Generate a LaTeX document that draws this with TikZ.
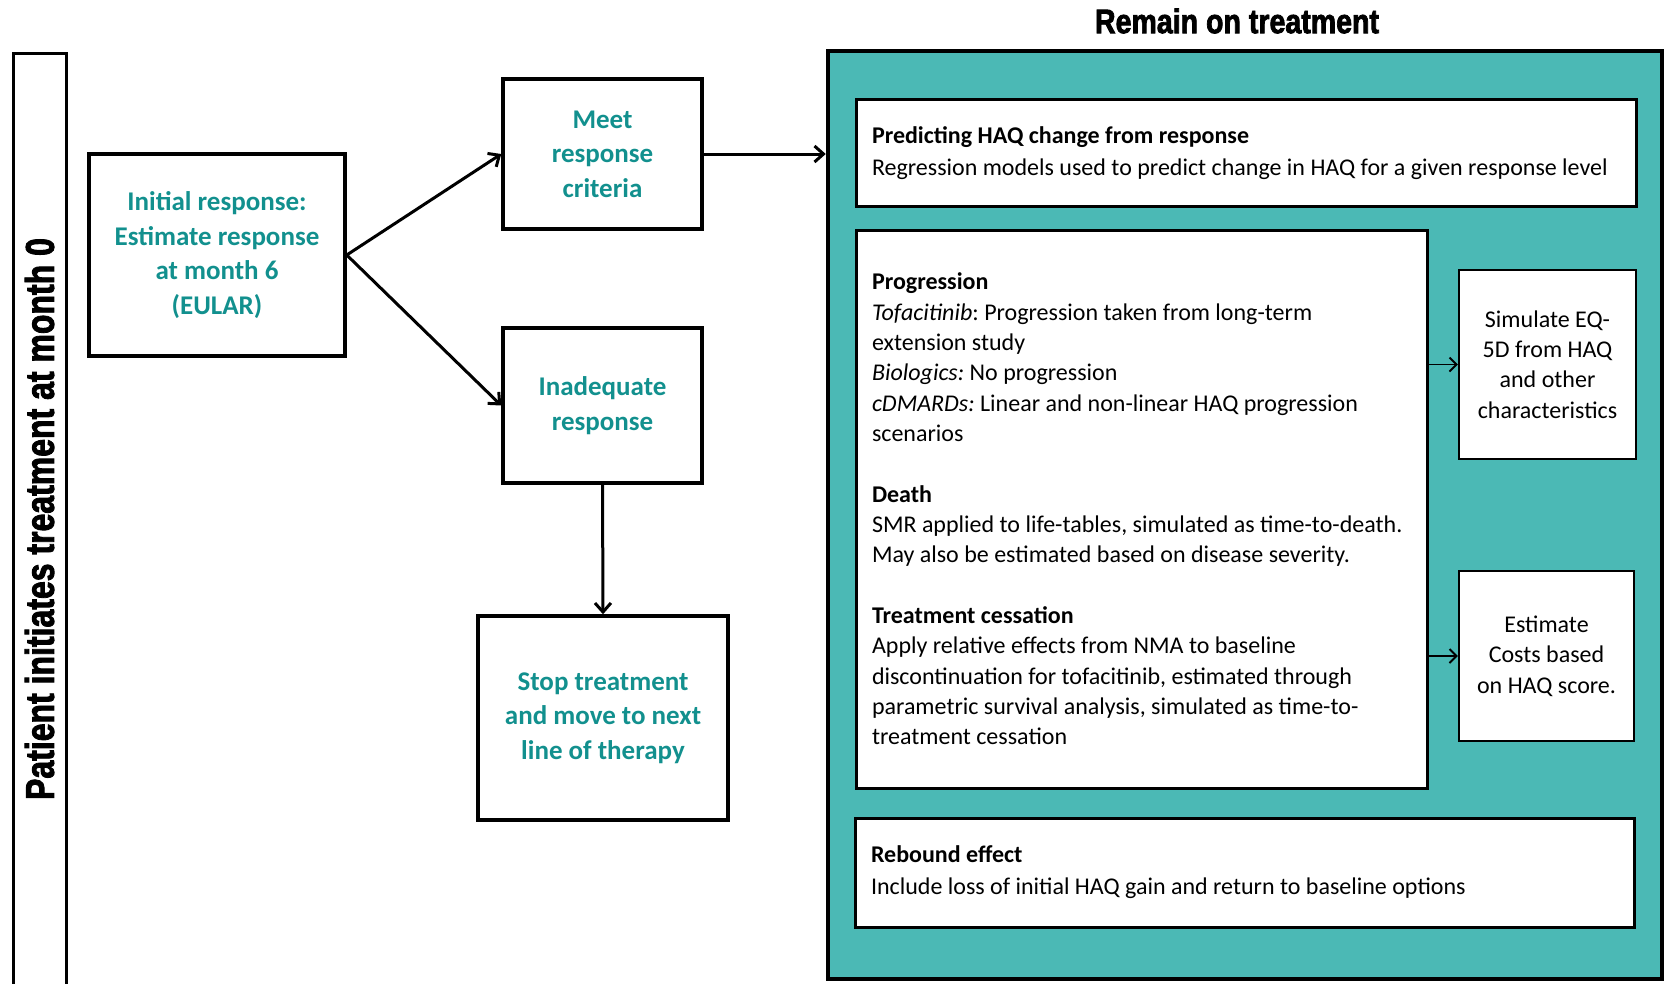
\documentclass[tikz,border=0pt]{standalone}
\usepackage{fontspec}
\setmainfont{Carlito}
\newfontfamily\heavyfont{Liberation Sans}[BoldFeatures={FakeBold=2.5}]
\usetikzlibrary{arrows.meta}
\definecolor{tealfill}{HTML}{4BB9B5}
\definecolor{tealtext}{HTML}{12908E}
\frenchspacing
\newcommand\plainspace{\spaceskip=\fontdimen2\font plus 0.1em\relax}

\begin{document}
\begin{tikzpicture}[x=1pt, y=-1pt,
    flow/.style={rectangle, draw, line width=3.5pt, align=center, text=tealtext, inner sep=0pt, font=\fontsize{27}{34.5}\selectfont\bfseries},
    info/.style={rectangle, draw, fill=white, line width=3pt, align=left, inner xsep=16pt, inner ysep=0pt, font=\fontsize{24}{30.4}\selectfont},
    side/.style={rectangle, draw, fill=white, line width=2.5pt, align=center, inner sep=0pt, font=\fontsize{24}{30.4}\selectfont},
    arrow/.style={-{Straight Barb[length=9pt,width=16pt]}, line width=3pt},
    thin arrow/.style={-{Straight Barb[length=7pt,width=14pt]}, line width=1.8pt},
    heading/.style={font=\heavyfont\bfseries\fontsize{34}{34}\selectfont}
]
\useasboundingbox (0,0) rectangle (1665,983);

% Barre de gauche
\node[draw, line width=3pt, rotate=90, minimum width=932pt, minimum height=53pt, inner sep=0pt] (start) at (39.5,519)
  {\scalebox{0.8}[1]{\heavyfont\bfseries\fontsize{40}{40}\selectfont Patient initiates treatment at month 0}};

% Reponse initiale
\node[flow, minimum width=256pt, minimum height=202pt] (initial) at (217,255) {Initial response:\\Estimate response\\at month 6\\(EULAR)};
\node[flow, minimum width=199pt, minimum height=150pt] (meet) at (602.5,154) {Meet\\response\\criteria};
\node[flow, minimum width=199pt, minimum height=155pt] (inadequate) at (602.5,405.5) {Inadequate\\response};
\node[flow, minimum width=250pt, minimum height=204pt] (stop) at (603,718) {Stop treatment\\and move to next\\line of therapy};

% Bloc traitement
\node[heading] (remaintitle) at (1237,21) {\scalebox{0.84}[1]{Remain on treatment}};
\node[draw, fill=tealfill, line width=4.5pt, minimum width=834pt, minimum height=928pt, inner sep=0pt] (remain) at (1245,515) {};

\node[info, text width=748pt, minimum height=107pt] (haq) at (1246,153)
  {\plainspace\textbf{Predicting HAQ change from response}\\[1.5pt]
   Regression models used to predict change in HAQ for a given response level};

\node[info, text width=539pt, minimum height=558pt] (progression) at (1141.5,509)
  {\plainspace\textbf{Progression}\\
   \textit{Tofacitinib}: Progression taken from long-term\\
   extension study\\
   \textit{Biologics:} No progression\\
   \textit{cDMARDs:} Linear and non-linear HAQ progression\\
   scenarios\\[30pt]
   \textbf{Death}\\
   SMR applied to life-tables, simulated as time-to-death.\\
   May also be estimated based on disease severity.\\[30pt]
   \textbf{Treatment cessation}\\
   Apply relative effects from NMA to baseline\\
   discontinuation for tofacitinib, estimated through\\
   parametric survival analysis, simulated as time-to-\\
   treatment cessation};

\node[side, minimum width=177pt, minimum height=189pt] (simulate) at (1547.5,364.5) {Simulate EQ-\\5D from HAQ\\and other\\characteristics};
\node[side, minimum width=175pt, minimum height=170pt] (estimate) at (1546.5,656) {Estimate\\Costs based\\on HAQ score.};

\node[info, text width=747pt, minimum height=109pt] (rebound) at (1244.5,872.5)
  {\plainspace\textbf{Rebound effect}\\[1.5pt]
   Include loss of initial HAQ gain and return to baseline options};

% Fleches
\draw[arrow] (initial.east) -- (meet.west);
\draw[arrow] (initial.east) -- (inadequate.west);
\draw[arrow] (meet.east) -- (meet.east -| remain.west);
\draw[arrow] (inadequate.south) -- (stop.north);
\draw[thin arrow] (progression.east |- simulate.west) -- (simulate.west);
\draw[thin arrow] (progression.east |- estimate.west) -- (estimate.west);

\end{tikzpicture}
\end{document}
